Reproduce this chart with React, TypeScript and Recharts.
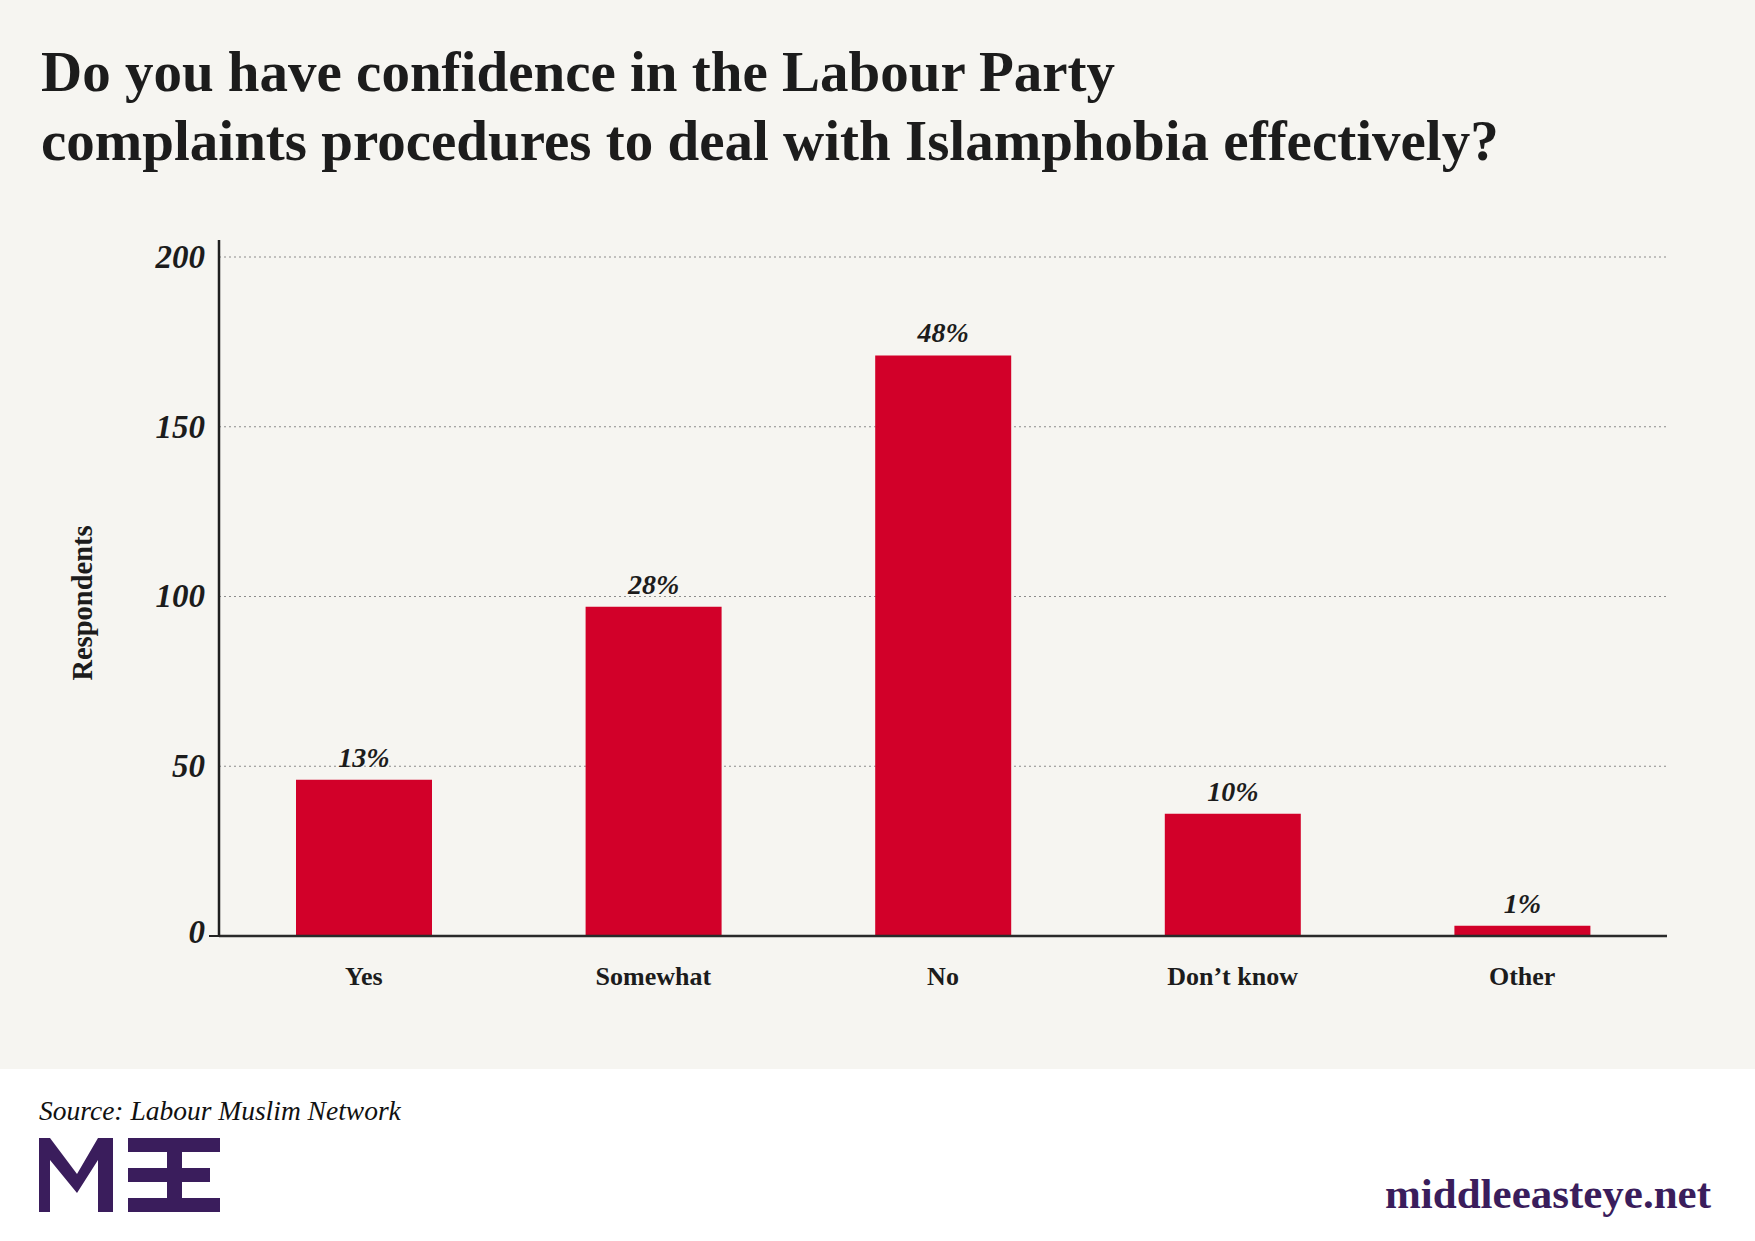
import React from 'react';
import { BarChart, Bar, XAxis, YAxis, CartesianGrid, LabelList } from 'recharts';

const categories = ['Yes', 'Somewhat', 'No', 'Don\u2019t know', 'Other'];
const respondents = [46, 97, 171, 36, 3];
const shares = ['13%', '28%', '48%', '10%', '1%'];
const yTicks = [0, 50, 100, 150, 200];
const yMax = 205;

const titleLines = [
  'Do you have confidence in the Labour Party',
  'complaints procedures to deal with Islamphobia effectively?',
];
const sourceText = 'Source: Labour Muslim Network';
const siteText = 'middleeasteye.net';
const yLabel = 'Respondents';

const data = categories.map((c, i) => ({ category: c, value: respondents[i], share: shares[i] }));

const SERIF = '"Liberation Serif", "Times New Roman", serif';
const INK = '#1c1c1c';
const RED = '#d20029';
const PURPLE = '#3a1d5c';
const BG = '#f6f5f1';

const YTick = (props: any) => {
  const { x, y, payload } = props;
  return (
    <g>
      {payload.value === 0 ? (
        <line x1={x + 4} x2={x + 15} y1={y} y2={y} stroke="#222" strokeWidth={2} />
      ) : null}
      <text
        x={x}
        y={y}
        dy={payload.value === 0 ? 7 : 11}
        textAnchor="end"
        fontFamily={SERIF}
        fontStyle="italic"
        fontWeight={700}
        fontSize={33}
        fill={INK}
      >
        {payload.value}
      </text>
    </g>
  );
};

const XTick = (props: any) => {
  const { x, y, payload } = props;
  return (
    <text
      x={x}
      y={y}
      dy={41}
      textAnchor="middle"
      fontFamily={SERIF}
      fontWeight={700}
      fontSize={26}
      fill={INK}
    >
      {payload.value}
    </text>
  );
};

const ShareLabel = (props: any) => {
  const { x, y, width, value } = props;
  return (
    <text
      x={x + width / 2}
      y={y - 13}
      textAnchor="middle"
      fontFamily={SERIF}
      fontStyle="italic"
      fontWeight={700}
      fontSize={28}
      fill={INK}
    >
      {value}
    </text>
  );
};

const gridRows = (args: any) => {
  const off = args && args.offset;
  if (off && typeof off.top === 'number' && typeof off.height === 'number') {
    return yTicks.filter((t) => t > 0).map((t) => off.top + off.height * (1 - t / yMax));
  }
  return [];
};

export default function App() {
  return (
    <div style={{ position: 'absolute', left: 0, top: 0, width: 1755, height: 1241, background: '#ffffff', overflow: 'hidden' }}>
      <div style={{ position: 'absolute', left: 0, top: 0, width: 1755, height: 1069, background: BG }} />
      <div style={{ position: 'absolute', left: 0, top: 0 }}>
        <BarChart
          width={1755}
          height={1069}
          data={data}
          margin={{ top: 240, right: 88, left: 139, bottom: 73 }}
        >
          <CartesianGrid
            vertical={false}
            stroke="#8c8c8c"
            strokeDasharray="2 3"
            strokeWidth={1.2}
            horizontalCoordinatesGenerator={gridRows}
          />
          <XAxis
            dataKey="category"
            height={60}
            axisLine={{ stroke: '#2a2a2a', strokeWidth: 2.5 }}
            tickLine={false}
            tick={<XTick />}
            interval={0}
          />
          <YAxis
            width={80}
            domain={[0, yMax]}
            ticks={yTicks}
            allowDataOverflow
            axisLine={{ stroke: '#1f1f1f', strokeWidth: 2.5 }}
            tickLine={false}
            tickSize={6}
            tickMargin={8}
            tick={<YTick />}
          />
          <Bar dataKey="value" fill={RED} barSize={136} isAnimationActive={false}>
            <LabelList dataKey="share" content={<ShareLabel />} />
          </Bar>
        </BarChart>
      </div>
      <svg
        width={1755}
        height={1241}
        style={{ position: 'absolute', left: 0, top: 0, pointerEvents: 'none' }}
      >
        {titleLines.map((t, i) => (
          <text
            key={i}
            x={41}
            y={91 + i * 68.6}
            fontFamily={SERIF}
            fontWeight={700}
            fontSize={57}
            fill={INK}
          >
            {t}
          </text>
        ))}
        <text
          transform="translate(92 603) rotate(-90)"
          textAnchor="middle"
          fontFamily={SERIF}
          fontWeight={700}
          fontSize={28.5}
          fill={INK}
        >
          {yLabel}
        </text>
        <text x={39} y={1120} fontFamily={SERIF} fontStyle="italic" fontSize={27.5} fill="#111">
          {sourceText}
        </text>
        <g fill={PURPLE}>
          <polygon points="39,1212 39,1138 50,1138 77,1174 98,1138 113,1138 113,1212 98,1212 98,1160 77,1193 50,1160 50,1212" />
          <rect x={167} y={1138} width={15} height={74} />
          <rect x={128} y={1138} width={92} height={14} />
          <rect x={128} y={1168} width={54} height={14} />
          <rect x={182} y={1168} width={28} height={14} />
          <rect x={128} y={1198} width={92} height={14} />
        </g>
        <text x={1385} y={1208} fontFamily={SERIF} fontWeight={700} fontSize={43} fill={PURPLE}>
          {siteText}
        </text>
      </svg>
    </div>
  );
}
